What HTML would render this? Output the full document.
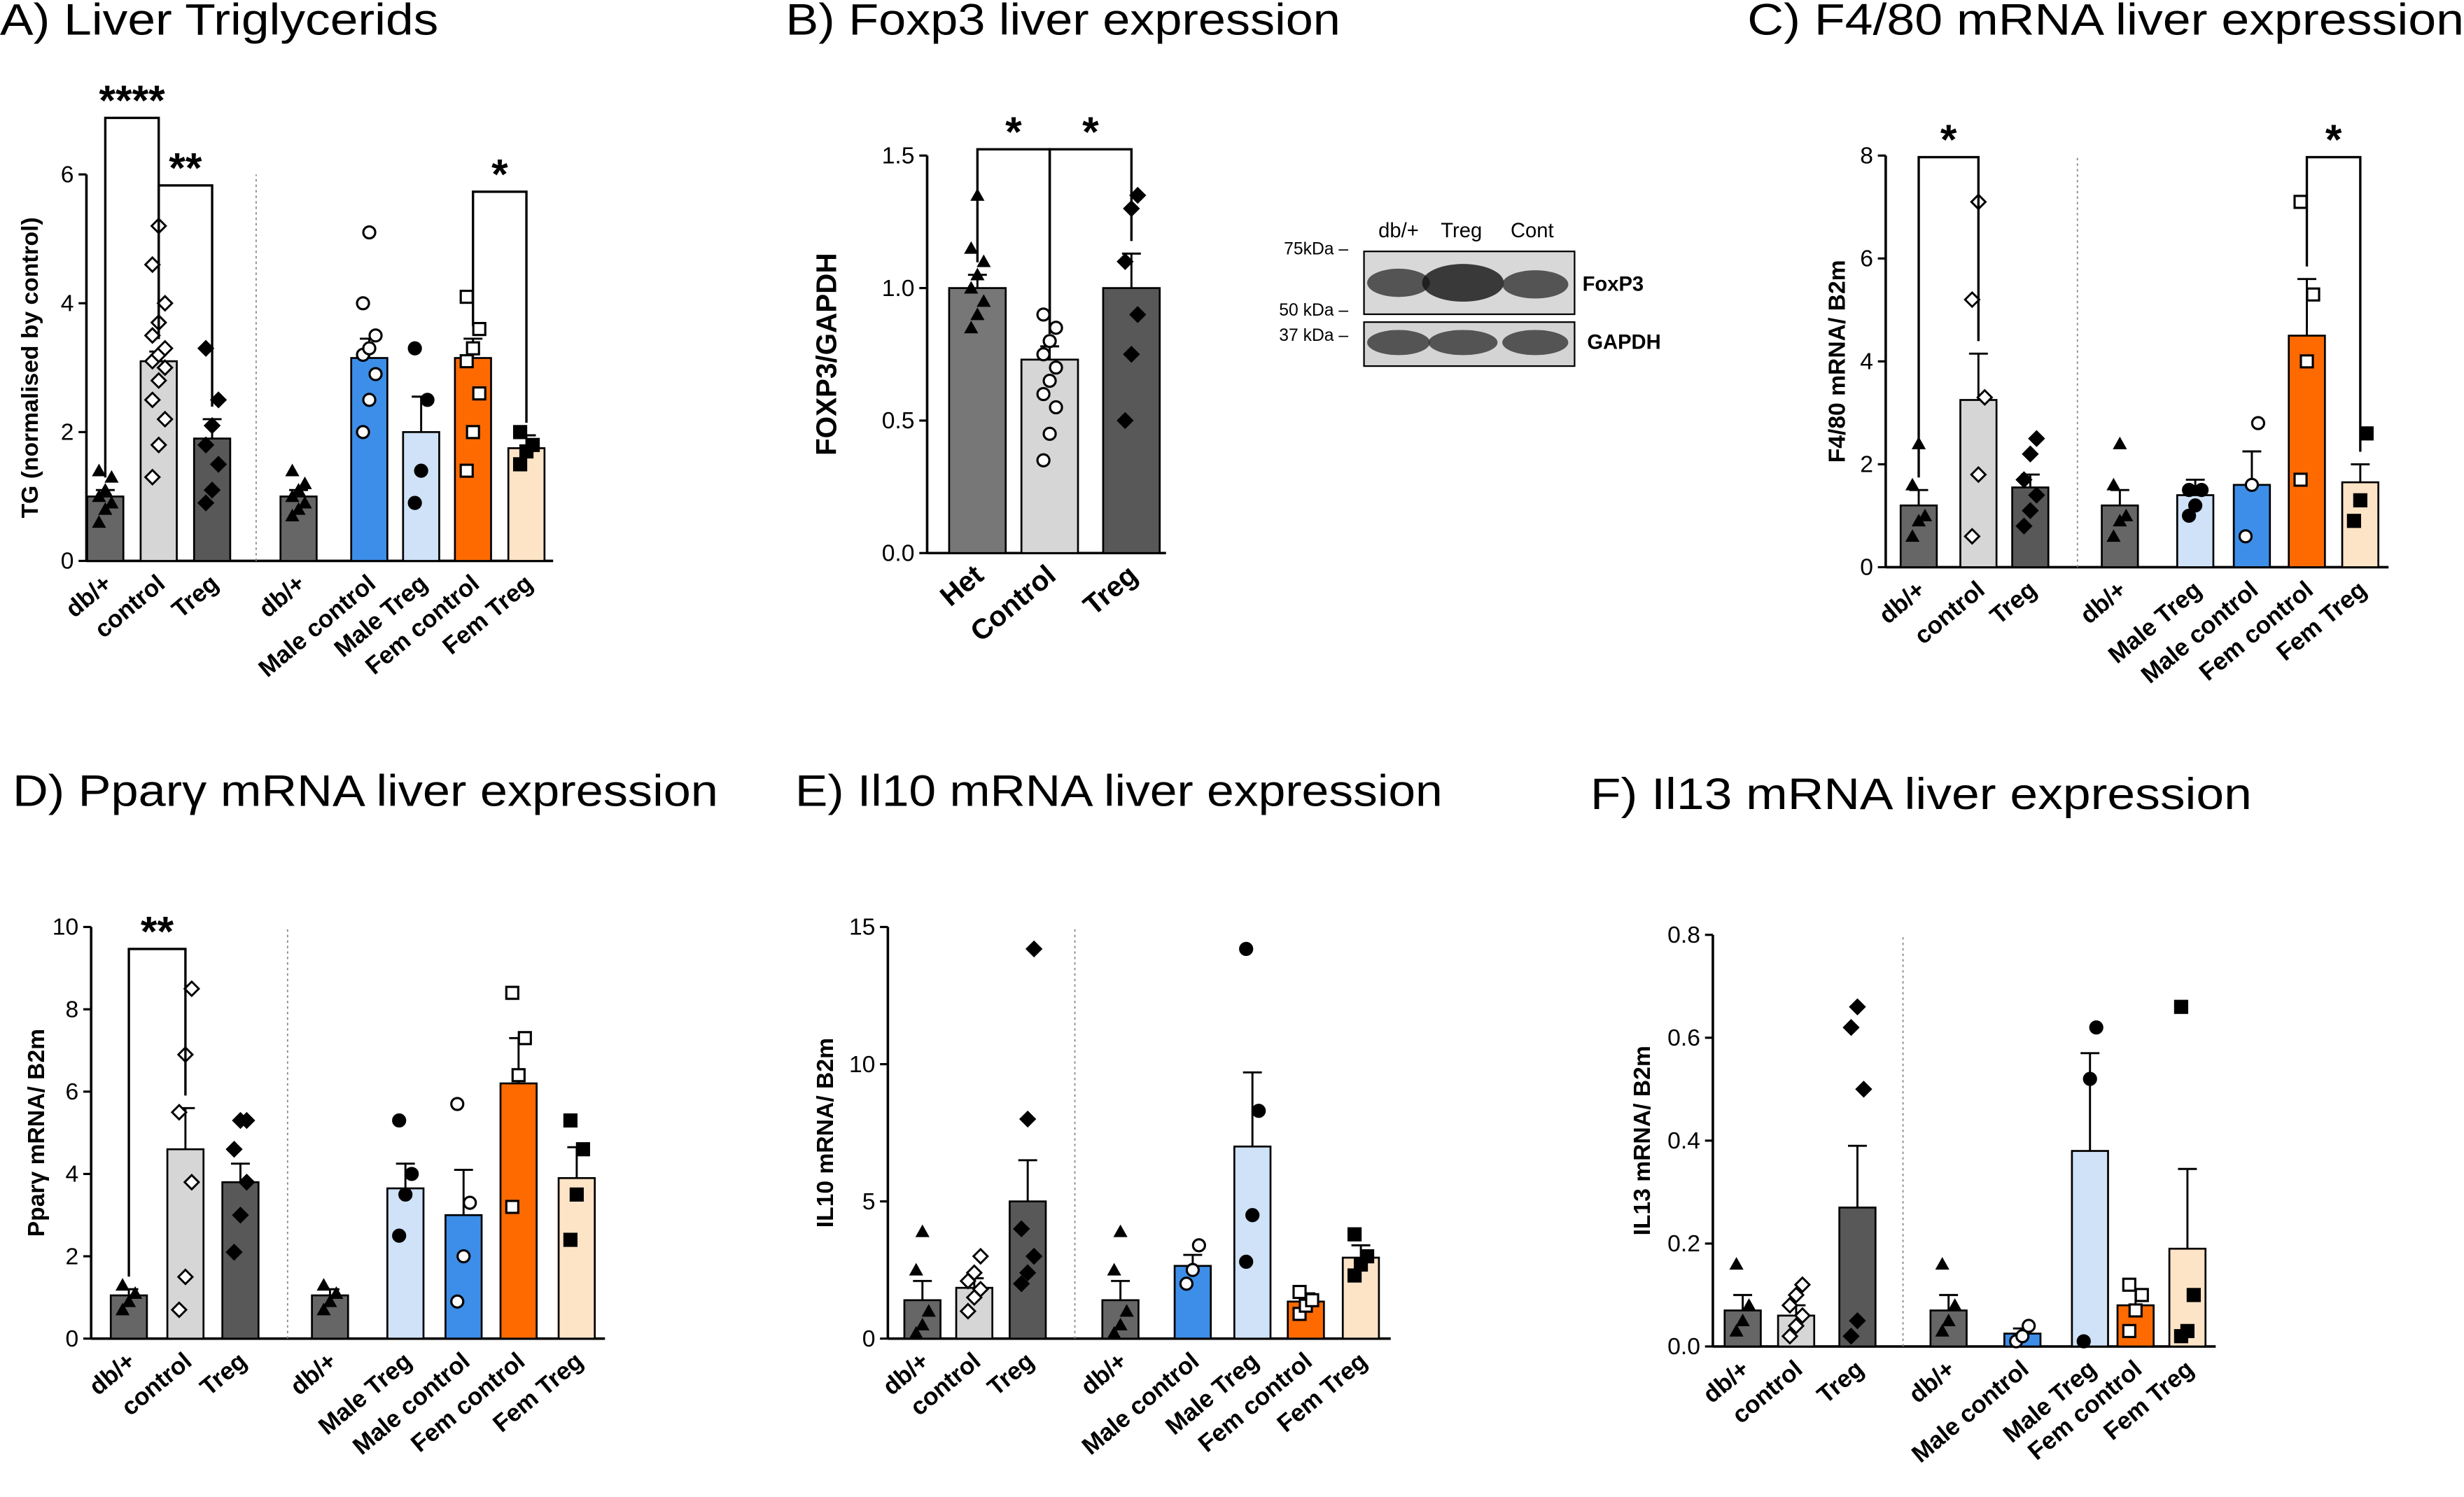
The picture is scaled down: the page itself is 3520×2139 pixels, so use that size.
<!DOCTYPE html>
<html><head><meta charset="utf-8"><style>
html,body{margin:0;padding:0;background:#fff}
svg{display:block}
text{font-family:"Liberation Sans",sans-serif;fill:#000}
.t{font-size:28px}
.tk{font-size:15px}
.cl{font-size:15.5px;font-weight:bold}
.yl{font-size:15px;font-weight:bold}
</style></head><body>
<svg id="s" width="3520" height="2139" viewBox="0 0 1568 952.8" xmlns="http://www.w3.org/2000/svg"></svg>
<script>
// Panel A
const aCats=["db/+","control","Treg","db/+","Male control","Male Treg","Fem control","Fem Treg"];
const aVals=[1.0,3.1,1.9,1.0,3.15,2.0,3.15,1.75];
const aErr=[0.1,0.15,0.3,0.1,0.3,0.55,0.3,0.2];
const aPts=[[0.6,0.8,0.9,1.0,1.1,1.3,1.4],[1.3,1.8,2.2,2.5,2.8,3.0,3.1,3.2,3.3,3.5,3.7,4.0,4.6,5.2],[0.9,1.1,1.5,1.8,2.1,2.5,3.3],[0.7,0.8,0.9,1.0,1.1,1.2,1.4],[2.0,2.5,2.9,3.2,3.3,3.5,4.0,5.1],[0.9,1.4,2.5,3.3],[1.4,2.0,2.6,3.1,3.3,3.6,4.1],[1.5,1.7,1.8,2.0]];
const aTicks=[0,2,4,6];
// Panel B
const bCats=["Het","Control","Treg"];
const bVals=[1.0,0.73,1.0];
const bErr=[0.05,0.05,0.13];
const bPts=[[0.85,0.9,0.95,1.0,1.05,1.1,1.15,1.35],[0.35,0.45,0.55,0.6,0.65,0.7,0.75,0.8,0.85,0.9],[0.5,0.75,0.9,1.1,1.3,1.35]];
const bTicks=[0,0.5,1.0,1.5];
// Panel C
const cCats=["db/+","control","Treg","db/+","Male Treg","Male control","Fem control","Fem Treg"];
const cVals=[1.2,3.25,1.55,1.2,1.4,1.6,4.5,1.65];
const cErr=[0.3,0.9,0.25,0.3,0.3,0.65,1.1,0.35];
const cPts=[[0.6,0.9,1.0,1.6,2.4],[0.6,1.8,3.3,5.2,7.1],[0.8,1.1,1.4,1.7,2.2,2.5],[0.6,0.9,1.0,1.6,2.4],[1.0,1.2,1.5,1.5],[0.6,1.6,2.8],[1.7,4.0,5.3,7.1],[0.9,1.3,2.6]];
const cTicks=[0,2,4,6,8];
// Panel D
const dCats=["db/+","control","Treg","db/+","Male Treg","Male control","Fem control","Fem Treg"];
const dVals=[1.05,4.6,3.8,1.05,3.65,3.0,6.2,3.9];
const dErr=[0.15,1.0,0.45,0.15,0.6,1.1,1.1,0.75];
const dPts=[[0.7,0.9,1.1,1.3],[0.7,1.5,3.8,5.5,6.9,8.5],[2.1,3.0,3.8,4.6,5.3,5.3],[0.7,0.9,1.1,1.3],[2.5,3.5,4.0,5.3],[0.9,2.0,3.3,5.7],[3.2,6.4,7.3,8.4],[2.4,3.5,4.6,5.3]];
const dTicks=[0,2,4,6,8,10];
// Panel E
const eCats=["db/+","control","Treg","db/+","Male control","Male Treg","Fem control","Fem Treg"];
const eVals=[1.4,1.85,5.0,1.4,2.65,7.0,1.35,2.95];
const eErr=[0.7,0.35,1.5,0.7,0.4,2.7,0.3,0.45];
const ePts=[[0.2,0.5,1.0,2.5,3.9],[1.0,1.5,1.8,2.1,2.4,3.0],[2.0,2.4,3.0,4.0,8.0,14.2],[0.2,0.5,1.0,2.5,3.9],[2.0,2.5,3.4],[2.8,4.5,8.3,14.2],[0.9,1.2,1.4,1.7],[2.3,2.7,3.0,3.8]];
const eTicks=[0,5,10,15];
// Panel F
const fCats=["db/+","control","Treg","db/+","Male control","Male Treg","Fem control","Fem Treg"];
const fVals=[0.07,0.06,0.27,0.07,0.025,0.38,0.08,0.19];
const fErr=[0.03,0.02,0.12,0.03,0.01,0.19,0.03,0.155];
const fPts=[[0.03,0.05,0.08,0.16],[0.02,0.04,0.06,0.08,0.1,0.12],[0.02,0.05,0.5,0.62,0.66],[0.03,0.05,0.08,0.16],[0.01,0.02,0.04],[0.01,0.52,0.62],[0.03,0.07,0.1,0.12],[0.02,0.03,0.1,0.66]];
const fTicks=[0,0.2,0.4,0.6,0.8];

const NS="http://www.w3.org/2000/svg";
const S=document.getElementById('s');
function el(t,a,p){const e=document.createElementNS(NS,t);for(const k in a)e.setAttribute(k,a[k]);(p||S).appendChild(e);return e;}
function tx(str,a,p){const e=el('text',a,p);e.textContent=str;return e;}
const COL={dark:"#666",light:"#d6d6d6",treg:"#585858",blue:"#3d8ee8",lblue:"#cfe2f7",orange:"#ff6a00",peach:"#fde4c6"};

function marker(g,type,x,y){
  let e;
  if(type==='tri'){e=el('polygon',{points:`${x},${y-4.5} ${x-4.5},${y+3.5} ${x+4.5},${y+3.5}`,fill:'#000'},g);}
  else if(type==='odia'||type==='fdia'){e=el('polygon',{points:`${x},${y-4.5} ${x+4.5},${y} ${x},${y+4.5} ${x-4.5},${y}`,fill:type==='fdia'?'#000':'#fff',stroke:'#000','stroke-width':1.3},g);}
  else if(type==='ocirc'||type==='fcirc'){e=el('circle',{cx:x,cy:y,r:3.8,fill:type==='fcirc'?'#000':'#fff',stroke:'#000','stroke-width':1.4},g);}
  else {e=el('rect',{x:x-3.8,y:y-3.8,width:7.6,height:7.6,fill:type==='fsq'?'#000':'#fff',stroke:'#000','stroke-width':1.4},g);}
  
  
}

function panel(o){
  const g=el('g',{});
  
  
  const t=tx(o.title,{x:o.tx,y:o.ty,class:'t',textLength:o.tw,lengthAdjust:'spacingAndGlyphs'},g);
  
  const ymax=o.ticks[o.ticks.length-1];
  const Y=v=>o.y0-(v/ymax)*(o.y0-o.y1);
  const ax=el('line',{x1:o.ax,y1:o.y0,x2:o.ax,y2:o.y1,stroke:'#000','stroke-width':1.6},g);
  
  const xa=el('line',{x1:o.ax,y1:o.y0,x2:o.xend,y2:o.y0,stroke:'#000','stroke-width':1.6},g);
  
  o.ticks.forEach(v=>{
    el('line',{x1:o.ax-5,y1:Y(v),x2:o.ax,y2:Y(v),stroke:'#000','stroke-width':1.4},g);
    const l=tx(o.fmt?o.fmt(v):String(v),{x:o.ax-8,y:Y(v)+5,'text-anchor':'end',class:'tk'},g);
    
  });
  const yl=tx(o.ylabel,{transform:`translate(${o.ylx},${(o.y0+o.y1)/2}) rotate(-90)`,'text-anchor':'middle',class:'yl',style:o.ylsize?`font-size:${o.ylsize}px`:''},g);
  
  if(o.div){const d=el('line',{x1:o.div,y1:o.y0,x2:o.div,y2:o.y1,stroke:'#888','stroke-width':0.8,'stroke-dasharray':'1.5,2'},g);
    }
  o.cats.forEach((c,i)=>{
    const x=o.xs[i],w=o.bw;
    const b=el('rect',{x:x-w/2,y:Y(o.vals[i]),width:w,height:o.y0-Y(o.vals[i]),fill:o.cols[i],stroke:'#000','stroke-width':1.2},g);
    
    
    const top=Y(o.vals[i]+o.err[i]);
    el('line',{x1:x,y1:Y(o.vals[i]),x2:x,y2:top,stroke:'#000','stroke-width':1.3},g);
    el('line',{x1:x-6,y1:top,x2:x+6,y2:top,stroke:'#000','stroke-width':1.3},g);
    const pts=o.pts[i];
    pts.forEach((v,j)=>{const off=pts.length>1?((j%3)-1)*4:0;marker(g,o.marks[i],x+off,Y(v));});
    const lab=tx(c,{transform:`translate(${x+5},${o.y0+16}) rotate(-40)`,'text-anchor':'end',class:'cl',style:o.clsize?`font-size:${o.clsize}px`:''},g);
    
  });
  (o.brackets||[]).forEach(br=>{
    const [i1,i2,yb,stars]=br;const x1=o.xs[i1],x2=o.xs[i2];
    const p=el('path',{d:`M${x1},${Y(o.vals[i1]+o.err[i1])-8} V${yb} H${x2} V${Y(o.vals[i2]+o.err[i2])-8}`,fill:'none',stroke:'#000','stroke-width':1.5},g);
    
    const s=tx(stars,{x:(x1+x2)/2,y:yb-2,'text-anchor':'middle',style:'font-size:27px;font-weight:bold'},g);
    
  });
}
const MK=['tri','odia','fdia','tri','ocirc','fcirc','osq','fsq'];
panel({name:'panel-a',title:'A)  Liver Triglycerids',tx:0,ty:22,tw:279,ax:55,y0:357,y1:111,xend:352,ticks:aTicks,ylabel:'TG (normalised by control)',ylx:24,
  div:163,cats:aCats,vals:aVals,err:aErr,pts:aPts,xs:[67,101,135,190,235,268,301,335],bw:23,
  cols:[COL.dark,COL.light,COL.treg,COL.dark,COL.blue,COL.lblue,COL.orange,COL.peach],marks:MK,
  brackets:[[0,1,75,'****'],[1,2,118,'**'],[6,7,122,'*']]});
panel({name:'panel-b',title:'B)  Foxp3 liver expression',tx:500,ty:22,tw:353,ax:590,y0:352,y1:99,xend:742,ticks:bTicks,fmt:v=>v.toFixed(1),ylabel:'FOXP3/GAPDH',ylx:532,ylsize:18,clsize:18,
  cats:bCats,vals:bVals,err:bErr,pts:bPts,xs:[622,668,720],bw:36,cols:['#777',COL.light,COL.treg],marks:['tri','ocirc','fdia'],
  brackets:[[0,1,95,'*'],[1,2,95,'*']]});
panel({name:'panel-c',title:'C)  F4/80 mRNA liver expression',tx:1112,ty:22,tw:456,ax:1200,y0:361,y1:99,xend:1520,ticks:cTicks,ylabel:'F4/80 mRNA/ B2m',ylx:1174,
  div:1322,cats:cCats,vals:cVals,err:cErr,pts:cPts,xs:[1221,1259,1292,1349,1397,1433,1468,1502],bw:23,
  cols:[COL.dark,COL.light,COL.treg,COL.dark,COL.lblue,COL.blue,COL.orange,COL.peach],marks:['tri','odia','fdia','tri','fcirc','ocirc','osq','fsq'],
  brackets:[[0,1,100,'*'],[6,7,100,'*']]});
panel({name:'panel-d',title:'D) Pparγ mRNA liver expression',tx:8,ty:513,tw:449,ax:58,y0:852,y1:590,xend:385,ticks:dTicks,ylabel:'Pparγ mRNA/ B2m',ylx:28,
  div:183,cats:dCats,vals:dVals,err:dErr,pts:dPts,xs:[82,118,153,210,258,295,330,367],bw:23,
  cols:[COL.dark,COL.light,COL.treg,COL.dark,COL.lblue,COL.blue,COL.orange,COL.peach],marks:['tri','odia','fdia','tri','fcirc','ocirc','osq','fsq'],
  brackets:[[0,1,604,'**']]});
panel({name:'panel-e',title:'E) Il10 mRNA liver expression',tx:506,ty:513,tw:412,ax:565,y0:852,y1:590,xend:885,ticks:eTicks,ylabel:'IL10 mRNA/ B2m',ylx:530,
  div:684,cats:eCats,vals:eVals,err:eErr,pts:ePts,xs:[587,620,654,713,759,797,831,866],bw:23,
  cols:[COL.dark,COL.light,COL.treg,COL.dark,COL.blue,COL.lblue,COL.orange,COL.peach],marks:['tri','odia','fdia','tri','ocirc','fcirc','osq','fsq']});
panel({name:'panel-f',title:'F)  Il13 mRNA liver expression',tx:1012,ty:515,tw:421,ax:1090,y0:857,y1:595,xend:1410,ticks:fTicks,fmt:v=>v.toFixed(1),ylabel:'IL13 mRNA/ B2m',ylx:1050,
  div:1211,cats:fCats,vals:fVals,err:fErr,pts:fPts,xs:[1109,1143,1182,1240,1287,1330,1359,1392],bw:23,
  cols:[COL.dark,COL.light,COL.treg,COL.dark,COL.blue,COL.lblue,COL.orange,COL.peach],marks:['tri','odia','fdia','tri','ocirc','fcirc','osq','fsq']});

// Western blot
const wb=el('g',{});


el('rect',{x:868,y:160,width:134,height:40,fill:'#d8d8d8',stroke:'#000','stroke-width':1},wb);
el('rect',{x:868,y:205,width:134,height:28,fill:'#d4d4d4',stroke:'#000','stroke-width':1},wb);
[[890,180,20,9,'#333'],[931,180,26,12,'#111'],[977,181,21,9,'#333'],[890,218,20,8,'#333'],[931,218,22,8,'#333'],[977,218,21,8,'#333']].forEach(b=>{
  const e=el('ellipse',{cx:b[0],cy:b[1],rx:b[2],ry:b[3],fill:b[4],opacity:0.8},wb);
  
});
[['db/+',890,151],['Treg',930,151],['Cont',975,151]].forEach(l=>tx(l[0],{x:l[1],y:l[2],'text-anchor':'middle',style:'font-size:13px'},wb));
tx('75kDa –',{x:858,y:162,'text-anchor':'end',style:'font-size:11px'},wb);
tx('50 kDa –',{x:858,y:201,'text-anchor':'end',style:'font-size:11px'},wb);
tx('37 kDa –',{x:858,y:217,'text-anchor':'end',style:'font-size:11px'},wb);
tx('FoxP3',{x:1007,y:185,style:'font-size:13px;font-weight:bold'},wb);
tx('GAPDH',{x:1010,y:222,style:'font-size:13px;font-weight:bold'},wb);
</script>
</body></html>
